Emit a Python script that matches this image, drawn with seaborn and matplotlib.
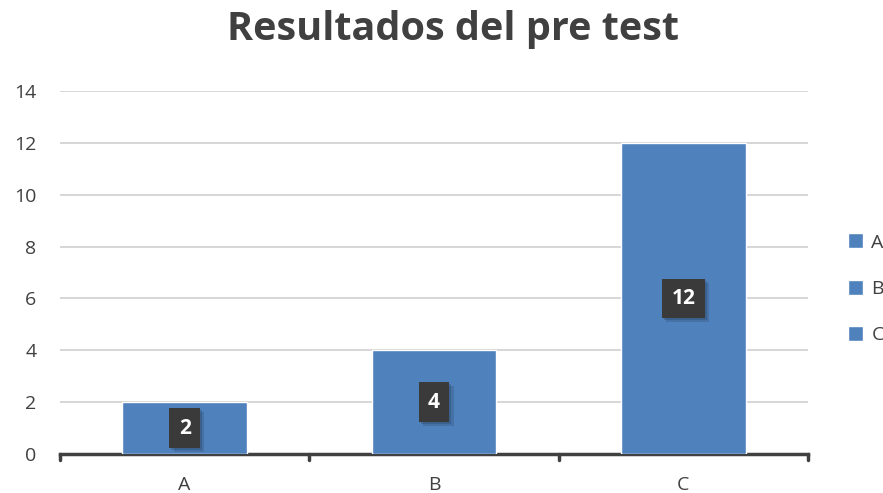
import matplotlib
matplotlib.use("Agg")
import matplotlib.pyplot as plt
import matplotlib.patheffects as pe
import seaborn as sns

# data
categorias = ["A", "B", "C"]
valores = [2, 4, 12]
titulo = "Resultados del pre test"
y_ticks = [0, 2, 4, 6, 8, 10, 12, 14]

color_barra = "#4f81bd"
gris_texto = "#404040"

sns.set_style("white")
plt.rcParams['font.family'] = ['Open Sans', 'DejaVu Sans']

fig = plt.figure(figsize=(8.83, 4.93), dpi=100)
ax = fig.add_axes([60 / 883, 1 - 454 / 493, (808 - 60) / 883, (454 - 91) / 493])

sns.barplot(x=categorias, y=valores, hue=categorias, palette=[color_barra] * 3,
            width=0.5, ax=ax, legend=True, saturation=1, zorder=3)

ax.set_ylim(0, 14)
ax.set_xlim(-0.5, 2.5)
ax.set_yticks(y_ticks)
ax.set_yticklabels([str(t) for t in y_ticks], fontsize=14, color=gris_texto)
ax.tick_params(axis="y", length=0, pad=17)
ax.set_xticks(range(len(categorias)))
ax.set_xticklabels(categorias, fontsize=14, color=gris_texto)
ax.tick_params(axis="x", length=0, pad=16)
ax.set_xlabel("")
ax.set_ylabel("")

# gridlines
ax.grid(axis="y", color="#d0d0d0", linewidth=1.2, zorder=0)
ax.set_axisbelow(True)
for s in ["top", "right", "left"]:
    ax.spines[s].set_visible(False)
ax.spines["bottom"].set_color(gris_texto)
ax.spines["bottom"].set_linewidth(2.5)

# category boundary ticks
for b in [-0.5, 0.5, 1.5, 2.5]:
    ax.plot([b, b], [0, -0.25], color=gris_texto, lw=2.5, clip_on=False, zorder=4)

# data labels (dark box with soft shadow)
for i, v in enumerate(valores):
    t = ax.text(i, v / 2, str(v), ha="center", va="center", fontsize=15, fontweight="bold",
                color="white", zorder=5,
                bbox=dict(boxstyle="square,pad=0.45", facecolor="#3a3a3a", edgecolor="none"))
    t.get_bbox_patch().set_path_effects([
        pe.SimplePatchShadow(offset=(3, -3), shadow_rgbFace="#000000", alpha=0.12),
        pe.SimplePatchShadow(offset=(1.5, -1.5), shadow_rgbFace="#000000", alpha=0.15),
        pe.Normal()])

fig.text(0.513, 0.94, titulo, ha="center", va="center", fontsize=28.5,
         fontweight="bold", color=gris_texto)

leg = ax.legend(loc="center left", bbox_to_anchor=(1.03, 0.455), frameon=False,
                fontsize=14, handlelength=0.8, handleheight=0.8, handletextpad=0.4,
                labelspacing=1.45)
for t in leg.get_texts():
    t.set_color(gris_texto)

fig.savefig("out.png", dpi=100)
